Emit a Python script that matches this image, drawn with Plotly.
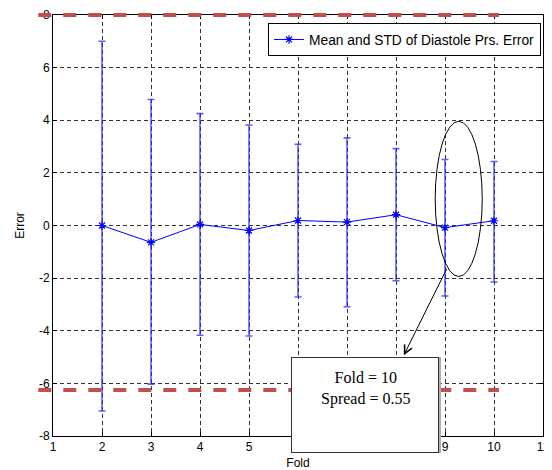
import plotly.graph_objects as go

folds = [2, 3, 4, 5, 6, 7, 8, 9, 10]
mean_err = [0.0, -0.64, 0.04, -0.19, 0.19, 0.13, 0.41, -0.08, 0.18]
upper = [7.0, 4.79, 4.25, 3.82, 3.09, 3.33, 2.92, 2.51, 2.43]
lower = [-7.05, -6.03, -4.17, -4.2, -2.72, -3.09, -2.1, -2.68, -2.15]
limit_levels = [8.0, -6.25]
limit_x = [0.7, 10.1]
x_ticks = list(range(1, 12))
y_ticks = [-8, -6, -4, -2, 0, 2, 4, 6, 8]
y_tick_labels = ["-8", "-6", "-4", "-2", "0", "2", "4", "6", "8"]
x_range = [1, 11]
y_range = [-8, 8]
ellipse_x = [8.8, 9.76]
ellipse_y = [-1.94, 3.96]
arrow_tail = (9.05, -1.59)
arrow_head = (8.16, -4.93)
note_center = (7.37, -6.82)
note_text_y = -6.19
note_lines = ["Fold = 10", "Spread = 0.55"]
legend_name = "Mean and STD of Diastole Prs. Error"

plus = [u - m for u, m in zip(upper, mean_err)]
minus = [m - l for m, l in zip(mean_err, lower)]

fig = go.Figure()
fig.add_trace(go.Scatter(
    x=folds, y=mean_err, mode="lines+markers", name=legend_name,
    line=dict(color="#0000ff", width=1),
    marker=dict(symbol="asterisk-open", size=7, color="#0000ff",
                line=dict(color="#0000ff", width=1.2)),
    error_y=dict(type="data", array=plus, arrayminus=minus, visible=True,
                 color="rgba(40,40,255,0.75)", thickness=1.6, width=3.5),
))

def to_px(v, r):
    return (v - r[0]) / (r[1] - r[0])

for lv in limit_levels:
    fig.add_shape(type="line", xref="paper", yref="paper",
                  x0=to_px(limit_x[0], x_range), x1=to_px(limit_x[1], x_range),
                  y0=to_px(lv, y_range), y1=to_px(lv, y_range),
                  line=dict(color="#c0504d", width=4, dash="13px,12px"),
                  layer="above")

fig.add_shape(type="circle", xref="x", yref="y",
              x0=ellipse_x[0], x1=ellipse_x[1], y0=ellipse_y[0], y1=ellipse_y[1],
              line=dict(color="black", width=1))

fig.add_annotation(x=arrow_head[0], y=arrow_head[1], ax=arrow_tail[0], ay=arrow_tail[1],
                   xref="x", yref="y", axref="x", ayref="y", text="",
                   showarrow=True, arrowhead=5, arrowsize=1.6, arrowwidth=1,
                   arrowcolor="black")

# shadow box
fig.add_annotation(x=note_center[0], y=note_center[1], xref="x", yref="y",
                   text=" ", showarrow=False, width=146, height=94, xshift=2,
                   bgcolor="#b0b0b0", bordercolor="#b0b0b0", borderwidth=1, borderpad=0)
fig.add_annotation(x=note_center[0], y=note_center[1], xref="x", yref="y",
                   text=" ", showarrow=False, width=146, height=94,
                   bgcolor="white", bordercolor="#333333", borderwidth=1, borderpad=0)
fig.add_annotation(x=note_center[0], y=note_text_y, xref="x", yref="y",
                   text="<br>".join(note_lines), showarrow=False,
                   font=dict(family="Liberation Serif", size=16, color="black"))

axis_common = dict(showline=True, linecolor="black", linewidth=1, mirror="ticks",
                   ticks="inside", ticklen=4, tickcolor="black", automargin=False,
                   showgrid=True, gridcolor="#333333", gridwidth=1, griddash="4px,3px",
                   zeroline=False, tickfont=dict(size=12, color="black"))

fig.update_xaxes(range=x_range, tickvals=x_ticks,
                 title=dict(text="Fold", font=dict(size=12), standoff=8),
                 **axis_common)
fig.update_yaxes(range=y_range, tickvals=y_ticks, ticktext=y_tick_labels,
                 title=dict(text="Error", font=dict(size=12), standoff=11),
                 **axis_common)

# page body adds an 8px offset, so the figure is sized to fit the window
fig.update_layout(
    width=544, height=462,
    margin=dict(l=45, r=9, t=7, b=34, autoexpand=False),
    paper_bgcolor="white", plot_bgcolor="white",
    font=dict(family="Liberation Sans, Arial", color="black"),
    showlegend=True,
    legend=dict(x=(541 - 53) / 490, xanchor="right", y=(436 - 23) / 421, yanchor="top",
                bgcolor="white", bordercolor="black", borderwidth=1,
                font=dict(size=13.8), itemwidth=30),
)

fig.write_html("out.html")
